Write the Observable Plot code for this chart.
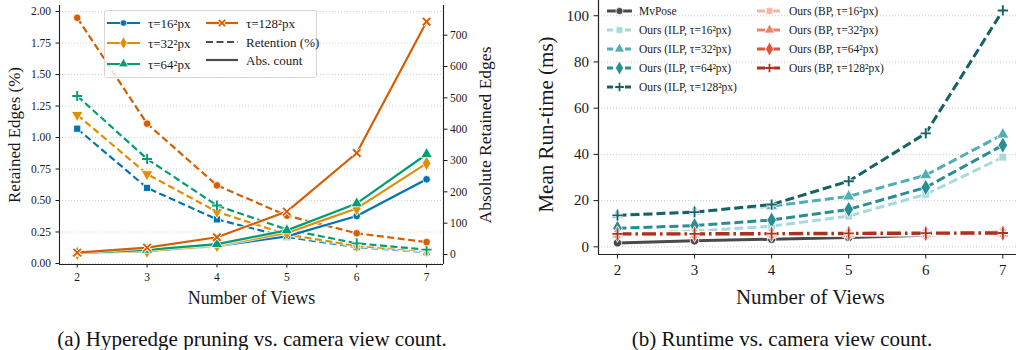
<!DOCTYPE html>
<html><head><meta charset="utf-8">
<script src="https://cdn.jsdelivr.net/npm/d3@7"></script>
<script src="https://cdn.jsdelivr.net/npm/@observablehq/plot@0.6"></script>
<style>
body{margin:0;background:#fff;font-family:"Liberation Serif",serif;}
#root{position:relative;width:1016px;height:350px;overflow:hidden;background:#fff;}
#root svg{position:absolute;top:0;}
.cap{position:absolute;font-size:21px;white-space:nowrap;transform:translate(-50%,-50%);color:#111;font-family:"Liberation Serif",serif;}
</style></head><body><div id="root"></div>
<script>
// ---------- shared ----------
const views = [2, 3, 4, 5, 6, 7];

// ---------- panel (a): hyperedge pruning ----------
const tauLabels = ["τ=16²px", "τ=32²px", "τ=64²px", "τ=128²px"];
const tauColors = ["#0173b2", "#de8f05", "#029e73", "#d55e00"];
const retention16 = [1.07, 0.60, 0.35, 0.21, 0.13, 0.09];
const retention32 = [1.18, 0.71, 0.41, 0.23, 0.14, 0.10];
const retention64 = [1.33, 0.83, 0.46, 0.27, 0.16, 0.11];
const retention128 = [1.95, 1.11, 0.62, 0.38, 0.24, 0.17];
const absCount16 = [4, 11, 27, 58, 123, 240];
const absCount32 = [4, 11, 29, 69, 147, 291];
const absCount64 = [4, 15, 33, 77, 163, 320];
const absCount128 = [6, 22, 55, 137, 324, 743];
const pctTicks = [0, 0.25, 0.5, 0.75, 1.0, 1.25, 1.5, 1.75, 2.0];
const absTicks = [0, 100, 200, 300, 400, 500, 600, 700];

// ---------- panel (b): runtime ----------
const runLabels = ["MvPose", "Ours (ILP, τ=16²px)", "Ours (ILP, τ=32²px)", "Ours (ILP, τ=64²px)", "Ours (ILP, τ=128²px)",
  "Ours (BP, τ=16²px)", "Ours (BP, τ=32²px)", "Ours (BP, τ=64²px)", "Ours (BP, τ=128²px)"];
const runColors = ["#4a4a4a", "#a8dadc", "#52aeb5", "#2a8d91", "#166266", "#f4b6a4", "#ea8469", "#d9573d", "#b0301e"];
const runMvPose = [1.7, 2.6, 3.3, 4.0, 5.0, 6.6];
const runIlp16 = [5.6, 6.8, 8.9, 13.3, 22.7, 38.8];
const runIlp32 = [13.8, 15.3, 17.6, 21.8, 31.0, 48.6];
const runIlp64 = [8.0, 9.2, 11.6, 16.2, 25.7, 44.0];
const runIlp128 = [13.6, 15.0, 18.3, 28.4, 49.1, 102.3];
const runBp16 = [5.3, 5.3, 5.4, 5.5, 5.6, 5.7];
const runBp32 = [5.4, 5.4, 5.5, 5.6, 5.7, 5.8];
const runBp64 = [5.5, 5.5, 5.6, 5.7, 5.8, 5.9];
const runBp128 = [5.6, 5.6, 5.7, 5.8, 5.9, 6.0];
const runTicks = [0, 20, 40, 60, 80, 100];

// ---------- helpers ----------
const rows = (vals) => views.map((v, i) => ({views: v, value: vals[i]}));
const strokeSymbols = new Set(["plus", "times"]);
function seriesMarks(vals, o) {
  const d = rows(vals);
  const m = [];
  m.push(Plot.line(d, {x: "views", y: "value", stroke: "white", strokeWidth: o.lw + 1.8, strokeOpacity: 0.75, strokeLinecap: "butt"}));
  m.push(Plot.line(d, {x: "views", y: "value", stroke: o.color, strokeWidth: o.lw, strokeDasharray: o.dash, strokeLinecap: "butt"}));
  if (strokeSymbols.has(o.symbol)) {
    m.push(Plot.dot(d, {x: "views", y: "value", symbol: o.symbol, r: o.r, fill: "none", stroke: "white", strokeWidth: 3.6}));
    m.push(Plot.dot(d, {x: "views", y: "value", symbol: o.symbol, r: o.r, fill: "none", stroke: o.color, strokeWidth: 1.9}));
  } else {
    m.push(Plot.dot(d, {x: "views", y: "value", symbol: o.symbol, r: o.r, rotate: o.rotate || 0, fill: o.color, stroke: "white", strokeWidth: 0.8}));
  }
  return m;
}
const baseStyle = {fontFamily: "Liberation Serif", color: "#1a1a1a", background: "transparent", overflow: "visible"};
const root = document.getElementById("root");

// ---------- panel (a) geometry ----------
const axA = {width: 500, height: 320, marginLeft: 59, marginRight: 57, marginTop: 5, marginBottom: 56};
const xDomA = [1.7466, 7.242];
const pctDom = [-0.008, 2.048];
const absDom = [-31.9, 794.7];

const retSeries = [retention16, retention32, retention64, retention128];
const retSymbols = [["square", 4.0, 0], ["triangle", 4.3, 180], ["plus", 3.3, 0], ["circle", 3.8, 0]];
const absSeries = [absCount16, absCount32, absCount64, absCount128];
const absSymbols = [["circle", 3.8, 0], ["diamond", 4.5, 0], ["triangle", 4.3, 0], ["times", 3.5, 0]];

const chartPct = Plot.plot({
  ...axA,
  x: {domain: xDomA, axis: null},
  y: {domain: pctDom, axis: null},
  style: {...baseStyle, fontSize: "11.5px"},
  marks: [
    Plot.gridY({ticks: pctTicks, stroke: "#c4c4c4", strokeOpacity: 1, strokeDasharray: "1,2", strokeWidth: 0.8}),
    Plot.axisY({ticks: pctTicks, tickSize: 3.5, tickPadding: 5, tickFormat: d3.format(".2f"), label: null}),
    Plot.axisX({ticks: views, tickSize: 3.5, tickPadding: 5, tickFormat: d3.format("d"), label: null}),
    ...retSeries.flatMap((s, i) => seriesMarks(s, {color: tauColors[i], lw: 2.2, dash: "7,3.5", symbol: retSymbols[i][0], r: retSymbols[i][1], rotate: retSymbols[i][2]})),
    Plot.ruleX([xDomA[0]], {stroke: "#222", strokeWidth: 1.1}),
    Plot.ruleY([pctDom[0]], {stroke: "#222", strokeWidth: 1.1}),
    Plot.text(["Retained Edges (%)"], {frameAnchor: "left", textAnchor: "middle", lineAnchor: "middle", rotate: -90, dx: -45, dy: 0, fontSize: 17}),
    Plot.text(["Number of Views"], {frameAnchor: "bottom", textAnchor: "middle", lineAnchor: "middle", dy: 34, fontSize: 18})
  ]
});
chartPct.style.left = "0px";
root.appendChild(chartPct);

const chartAbs = Plot.plot({
  ...axA,
  x: {domain: xDomA, axis: null},
  y: {domain: absDom, axis: null},
  style: {...baseStyle, fontSize: "11.5px"},
  marks: [
    Plot.axisY({ticks: absTicks, anchor: "right", tickSize: 3.5, tickPadding: 3, tickFormat: d3.format("d"), label: null}),
    ...absSeries.flatMap((s, i) => seriesMarks(s, {color: tauColors[i], lw: 2.2, dash: null, symbol: absSymbols[i][0], r: absSymbols[i][1], rotate: absSymbols[i][2]})),
    Plot.ruleX([xDomA[1]], {stroke: "#222", strokeWidth: 1.1}),
    Plot.text(["Absolute Retained Edges"], {frameAnchor: "right", textAnchor: "middle", lineAnchor: "middle", rotate: -90, dx: 42, fontSize: 17.5})
  ]
});
chartAbs.style.left = "0px";
root.appendChild(chartAbs);

// ---------- panel (b) ----------
const xDomB = [1.7537, 7.25];
const runDom = [-3.33, 106.6];
const runSeries = [runMvPose, runIlp16, runIlp32, runIlp64, runIlp128, runBp16, runBp32, runBp64, runBp128];
const runSymbols = [["circle", 4.2], ["square", 4.4], ["triangle", 4.5], ["diamond", 5.0], ["plus", 3.4],
  ["square", 4.4], ["triangle", 4.5], ["diamond", 5.0], ["plus", 3.4]];
const runDash = [null, "9,4", "9,4", "9,4", "9,4", "14,4,2.5,4", "14,4,2.5,4", "14,4,2.5,4", "14,4,2.5,4"];
const runLw = [3, 3, 3, 3, 3, 3.4, 3.4, 3.4, 3.4];

const chartRun = Plot.plot({
  width: 530, height: 320, marginLeft: 98, marginRight: 8.4, marginTop: 0, marginBottom: 66,
  x: {domain: xDomB, axis: null},
  y: {domain: runDom, axis: null},
  style: {...baseStyle, fontSize: "15px"},
  marks: [
    Plot.gridY({ticks: runTicks, stroke: "#c4c4c4", strokeOpacity: 1, strokeDasharray: "1,2", strokeWidth: 0.9}),
    Plot.axisY({ticks: runTicks, tickSize: 4.5, tickPadding: 5, tickFormat: d3.format("d"), label: null}),
    Plot.axisX({ticks: views, tickSize: 4.5, tickPadding: 5, tickFormat: d3.format("d"), label: null}),
    ...runSeries.flatMap((s, i) => seriesMarks(s, {color: runColors[i], lw: runLw[i], dash: runDash[i], symbol: runSymbols[i][0], r: runSymbols[i][1]})),
    Plot.ruleX([xDomB[0]], {stroke: "#222", strokeWidth: 1.2}),
    Plot.ruleY([runDom[0]], {stroke: "#222", strokeWidth: 1.2}),
    Plot.text(["Mean Run-time (ms)"], {frameAnchor: "left", textAnchor: "middle", lineAnchor: "middle", rotate: -90, dx: -52.5, dy: -3, fontSize: 21}),
    Plot.text(["Number of Views"], {frameAnchor: "bottom", textAnchor: "middle", lineAnchor: "middle", dy: 43, fontSize: 21})
  ]
});
chartRun.style.left = "500px";
root.appendChild(chartRun);

// ---------- legends (overlay) ----------
const symMap = {circle: d3.symbolCircle, square: d3.symbolSquare, diamond: d3.symbolDiamond, triangle: d3.symbolTriangle, plus: d3.symbolPlus, times: d3.symbolTimes};
const leg = d3.create("svg").attr("width", 1016).attr("height", 350)
  .style("left", "0px").style("pointer-events", "none").style("font-family", "Liberation Serif");
function legItem(x1, x2, y, color, dash, lw, symbol, r, text, tx, fs) {
  leg.append("line").attr("x1", x1).attr("x2", x2).attr("y1", y).attr("y2", y)
    .attr("stroke", color).attr("stroke-width", lw).attr("stroke-dasharray", dash).attr("stroke-linecap", "butt");
  if (symbol) {
    const p = d3.symbol(symMap[symbol], r * r * Math.PI)();
    const cx = (x1 + x2) / 2;
    if (strokeSymbols.has(symbol)) {
      leg.append("path").attr("d", p).attr("transform", `translate(${cx},${y})`).attr("fill", "none").attr("stroke", "white").attr("stroke-width", 3.4);
      leg.append("path").attr("d", p).attr("transform", `translate(${cx},${y})`).attr("fill", "none").attr("stroke", color).attr("stroke-width", 1.8);
    } else {
      leg.append("path").attr("d", p).attr("transform", `translate(${cx},${y})`).attr("fill", color).attr("stroke", "white").attr("stroke-width", 0.7);
    }
  }
  leg.append("text").attr("x", tx).attr("y", y).attr("dy", "0.35em").attr("font-size", fs).attr("fill", "#1a1a1a").text(text);
}
// panel (a) legend
leg.append("rect").attr("x", 104.5).attr("y", 10.5).attr("width", 212).attr("height", 67).attr("rx", 2)
  .attr("fill", "white").attr("fill-opacity", 0.8).attr("stroke", "#d2d2d2").attr("stroke-width", 0.9);
const legRowsA = [23, 43, 64];
tauLabels.slice(0, 3).forEach((t, i) => legItem(107, 140, legRowsA[i], tauColors[i], null, 2.2, absSymbols[i][0], absSymbols[i][1] * 0.85, t, 148, 13));
legItem(206, 238, 23, tauColors[3], null, 2.2, "times", 3.0, tauLabels[3], 246, 13);
legItem(206, 238, 42, "#4d4d4d", "7,3.5", 2.2, null, 0, "Retention (%)", 246, 13);
legItem(206, 238, 60, "#4d4d4d", null, 2.2, null, 0, "Abs. count", 246, 13);
// panel (b) legend
const legRowsB = [11, 30, 49, 68, 87];
for (let i = 0; i < 5; i++) legItem(607, 632, legRowsB[i], runColors[i], runDash[i] ? "6,3" : null, 3, runSymbols[i][0], runSymbols[i][1] * 0.85, runLabels[i], 639, 11.5);
for (let i = 5; i < 9; i++) legItem(757, 782, legRowsB[i - 5], runColors[i], "8,2.5,2,2.5", 3.2, runSymbols[i][0], runSymbols[i][1] * 0.85, runLabels[i], 789, 11.5);
root.appendChild(leg.node());

// ---------- captions ----------
const caps = [["(a) Hyperedge pruning vs. camera view count.", 252, 339], ["(b) Runtime vs. camera view count.", 782, 339]];
for (const [t, x, y] of caps) {
  const d = document.createElement("div");
  d.className = "cap"; d.textContent = t; d.style.left = x + "px"; d.style.top = y + "px";
  root.appendChild(d);
}
</script></body></html>
